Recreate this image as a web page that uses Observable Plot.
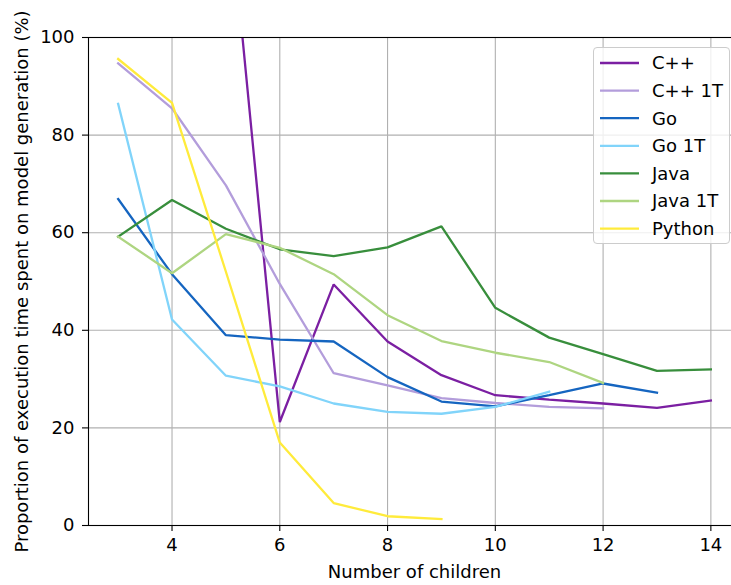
<!DOCTYPE html>
<html>
<head>
<meta charset="utf-8">
<script src="https://cdn.jsdelivr.net/npm/d3@7"></script>
<script src="https://cdn.jsdelivr.net/npm/@observablehq/plot@0.6"></script>
<style>
  html, body { margin: 0; padding: 0; background: #fff; overflow: hidden; }
  #wrap { position: relative; width: 731px; height: 585px; overflow: hidden; }
  #chart svg { max-width: none !important; display: block; }
  #chart svg text { font-family: "DejaVu Sans", sans-serif; font-size: 18px; }
  #legend { position: absolute; left: 593px; top: 47px; width: 137px; height: 197px;
    box-sizing: border-box; border: 1.1px solid #cccccc; border-radius: 4px;
    background: rgba(255,255,255,0.8); font-family: "DejaVu Sans", sans-serif; font-size: 18px; }
  #legend svg { display: block; }
</style>
</head>
<body>
<div id="wrap"><div id="chart"></div><div id="legend"></div></div>
<script>
// ---- data ----
const children = [3, 4, 5, 6, 7, 8, 9, 10, 11, 12, 13, 14];
const seriesNames = ["C++", "C++ 1T", "Go", "Go 1T", "Java", "Java 1T", "Python"];
const seriesColors = ["#7B1FA2", "#B39DDB", "#1565C0", "#81D4FA", "#388E3C", "#AED581", "#FFEB3B"];
const cpp    = [null, null, 135, 21.2, 49.4, 37.7, 30.8, 26.7, 25.8, 25.0, 24.1, 25.6];
const cpp1T  = [94.7, 85.5, 69.7, 49.5, 31.2, 28.7, 26.1, 25.1, 24.3, 24.0, null, null];
const go     = [66.9, 51.5, 39.0, 38.1, 37.7, 30.4, 25.4, 24.4, 26.7, 29.1, 27.2, null];
const go1T   = [86.4, 42.2, 30.7, 28.5, 25.0, 23.3, 22.9, 24.3, 27.4, null, null, null];
const java   = [59.2, 66.7, 60.8, 56.6, 55.2, 57.0, 61.3, 44.6, 38.5, 35.1, 31.7, 32.0];
const java1T = [59.2, 51.7, 59.7, 56.9, 51.5, 43.1, 37.8, 35.4, 33.5, 29.2, null, null];
const python = [95.6, 86.6, 52.0, 17.0, 4.6, 1.9, 1.3, null, null, null, null, null];
const xTicks = [4, 6, 8, 10, 12, 14];
const yTicks = [0, 20, 40, 60, 80, 100];

const seriesValues = [cpp, cpp1T, go, go1T, java, java1T, python];
const rows = [];
seriesNames.forEach((name, i) => {
  seriesValues[i].forEach((v, j) => {
    if (v != null) rows.push({series: name, x: children[j], y: v});
  });
});

const FONT = "DejaVu Sans, sans-serif";
const chart = Plot.plot({
  width: 742,
  height: 585,
  marginLeft: 88,
  marginRight: 2,
  marginTop: 37,
  marginBottom: 60,
  style: {fontFamily: FONT, fontSize: "18px", color: "#000", background: "#fff", maxWidth: "none"},
  x: {domain: [2.45, 14.55]},
  y: {domain: [0, 100]},
  color: {domain: seriesNames, range: seriesColors},
  marks: [
    Plot.gridX(xTicks, {stroke: "#b0b0b0", strokeOpacity: 1, strokeWidth: 1.1}),
    Plot.gridY(yTicks, {stroke: "#b0b0b0", strokeOpacity: 1, strokeWidth: 1.1}),
    Plot.line(rows, {x: "x", y: "y", z: "series", stroke: "series", strokeWidth: 2.3, clip: true,
      strokeLinejoin: "miter", strokeLinecap: "square"}),
    Plot.frame({stroke: "#000", strokeWidth: 1.1}),
    Plot.axisX({ticks: xTicks, tickSize: 6, tickPadding: 7, strokeWidth: 1.1,
      label: "Number of children", labelAnchor: "center", labelArrow: "none", labelOffset: 52}),
    Plot.axisY({ticks: yTicks, tickSize: 6, tickPadding: 8, strokeWidth: 1.1,
      label: "Proportion of execution time spent on model generation (%)",
      labelAnchor: "center", labelArrow: "none", labelOffset: 73})
  ]
});
document.getElementById("chart").appendChild(chart);

// legend built from series arrays
const leg = d3.select("#legend").append("svg").attr("width", 135).attr("height", 195)
  .style("font-family", FONT).style("font-size", "18px");
seriesNames.forEach((name, i) => {
  const cy = 15 + i * 27.6;
  leg.append("line").attr("x1", 6).attr("x2", 45).attr("y1", cy).attr("y2", cy)
    .attr("stroke", seriesColors[i]).attr("stroke-width", 2.3);
  leg.append("text").attr("x", 58).attr("y", cy).attr("dy", "0.36em").attr("fill", "#000").text(name);
});
</script>
</body>
</html>
